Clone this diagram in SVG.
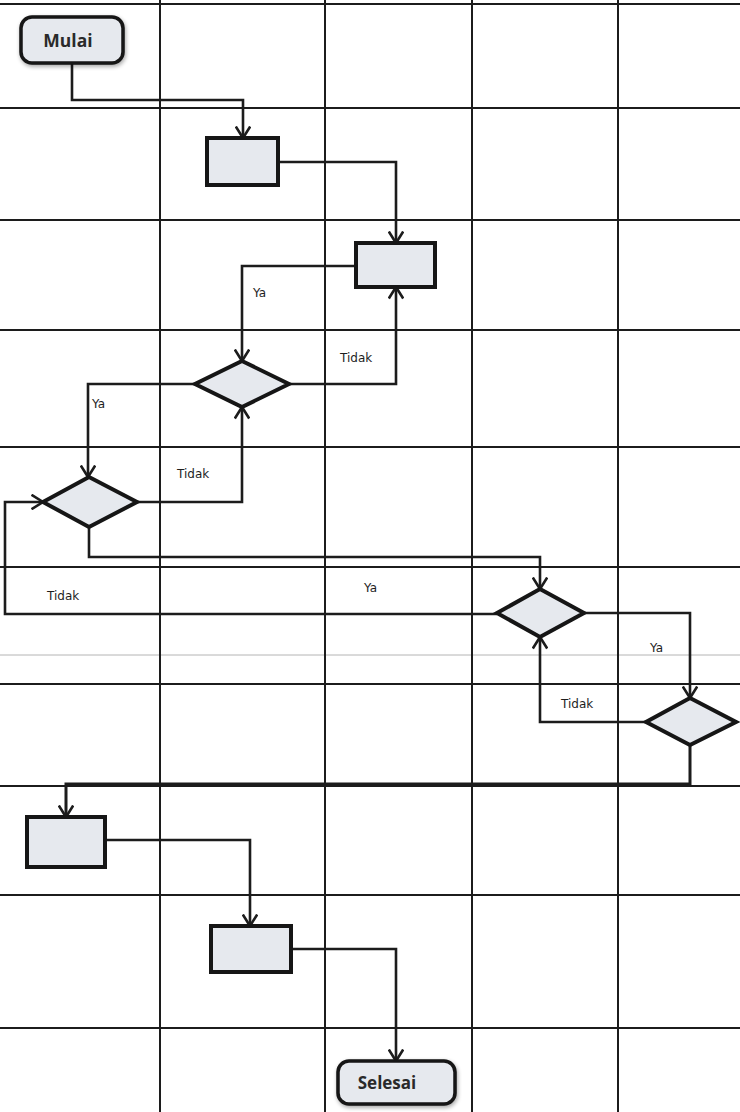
<svg xmlns="http://www.w3.org/2000/svg" width="740" height="1112" viewBox="0 0 740 1112">
<style>
.grid{stroke:#1c1c1c;stroke-width:2;fill:none}
.faint{stroke:#b4b4b4;stroke-width:1;fill:none}
.conn{stroke:#1c1c1c;stroke-width:2.6;fill:none;stroke-linejoin:miter}
.box{fill:#e6e9ee;stroke:#161616;stroke-width:4}
.term{fill:#e6e9ee;stroke:#161616;stroke-width:3.5}
.lbl{font-family:"DejaVu Sans","Liberation Sans",sans-serif;font-size:12px;fill:#1e1e1e}
.ttl{font-family:"Open Sans","Liberation Sans",sans-serif;font-weight:bold;font-size:17.5px;fill:#2a2a2a;text-anchor:middle}
</style>
<defs>
<marker id="arr" viewBox="0 0 14 16" refX="12.5" refY="8" markerWidth="14" markerHeight="16" markerUnits="userSpaceOnUse" orient="auto">
<path d="M1,0.8 L12.5,8 L1,15.2" fill="none" stroke="#1c1c1c" stroke-width="2.6"/>
</marker>
<filter id="sh" x="-20%" y="-20%" width="140%" height="150%">
<feGaussianBlur in="SourceAlpha" stdDeviation="2"/>
<feOffset dx="1" dy="2" result="b"/>
<feComponentTransfer><feFuncA type="linear" slope="0.35"/></feComponentTransfer>
<feMerge><feMergeNode/><feMergeNode in="SourceGraphic"/></feMerge>
</filter>
</defs>
<rect width="740" height="1112" fill="#ffffff"/>
<g id="grid">
<line class="grid" x1="0" y1="4" x2="740" y2="4"/>
<line class="grid" x1="0" y1="108" x2="740" y2="108"/>
<line class="grid" x1="0" y1="220" x2="740" y2="220"/>
<line class="grid" x1="0" y1="330" x2="740" y2="330"/>
<line class="grid" x1="0" y1="447" x2="740" y2="447"/>
<line class="grid" x1="0" y1="567" x2="740" y2="567"/>
<line class="faint" x1="0" y1="655" x2="740" y2="655"/>
<line class="grid" x1="0" y1="684" x2="740" y2="684"/>
<line class="grid" x1="0" y1="786" x2="740" y2="786"/>
<line class="grid" x1="0" y1="895" x2="740" y2="895"/>
<line class="grid" x1="0" y1="1028" x2="740" y2="1028"/>
<line class="grid" x1="160" y1="0" x2="160" y2="1112"/>
<line class="grid" x1="325" y1="0" x2="325" y2="1112"/>
<line class="grid" x1="472" y1="0" x2="472" y2="1112"/>
<line class="grid" x1="618" y1="0" x2="618" y2="1112"/>
</g>
<g id="connectors">
<path class="conn" d="M72,63 V100 H243 V138" marker-end="url(#arr)"/>
<path class="conn" d="M278,162 H396 V243" marker-end="url(#arr)"/>
<path class="conn" d="M356,266 H242 V361" marker-end="url(#arr)"/>
<path class="conn" d="M289,384 H396 V287" marker-end="url(#arr)"/>
<path class="conn" d="M195,384 H88 V477" marker-end="url(#arr)"/>
<path class="conn" d="M137,502 H242 V407" marker-end="url(#arr)"/>
<path class="conn" d="M89,527 V557 H540 V589" marker-end="url(#arr)"/>
<path class="conn" d="M497,614 H5 V502 H43" marker-end="url(#arr)"/>
<path class="conn" d="M584,613 H690 V698" marker-end="url(#arr)"/>
<path class="conn" d="M646,722 H540 V637" marker-end="url(#arr)"/>
<path class="conn" d="M690,744 V784 H66 V817" marker-end="url(#arr)" style="stroke-width:3"/>
<path class="conn" d="M105,840 H250 V926" marker-end="url(#arr)"/>
<path class="conn" d="M291,949 H396 V1061" marker-end="url(#arr)"/>
<text class="lbl" x="253" y="297">Ya</text>
<text class="lbl" x="340" y="362">Tidak</text>
<text class="lbl" x="92" y="408">Ya</text>
<text class="lbl" x="177" y="478">Tidak</text>
<text class="lbl" x="364" y="592">Ya</text>
<text class="lbl" x="47" y="600">Tidak</text>
<text class="lbl" x="650" y="652">Ya</text>
<text class="lbl" x="561" y="708">Tidak</text>
</g>
<g id="mulai">
<rect class="term" x="21" y="17" width="102" height="46" rx="11" filter="url(#sh)"/>
<text class="ttl" x="68" y="47">Mulai</text>
</g>
<g id="proses1"><rect class="box" x="207" y="138" width="71" height="47"/></g>
<g id="proses2"><rect class="box" x="356" y="243" width="79" height="44"/></g>
<g id="keputusan1"><polygon class="box" points="242,361 289,384 242,407 195,384"/></g>
<g id="keputusan2"><polygon class="box" points="89,477 137,502 89,527 43,502"/></g>
<g id="keputusan3"><polygon class="box" points="540,589 584,613 540,637 497,613"/></g>
<g id="keputusan4"><polygon class="box" points="690,698 736,722 690,745 646,722"/></g>
<g id="proses3"><rect class="box" x="27" y="817" width="78" height="50"/></g>
<g id="proses4"><rect class="box" x="211" y="926" width="80" height="46"/></g>
<g id="selesai">
<rect class="term" x="338" y="1061" width="117" height="43" rx="11" filter="url(#sh)"/>
<text class="ttl" x="387" y="1089" style="font-size:17px">Selesai</text>
</g>
</svg>
